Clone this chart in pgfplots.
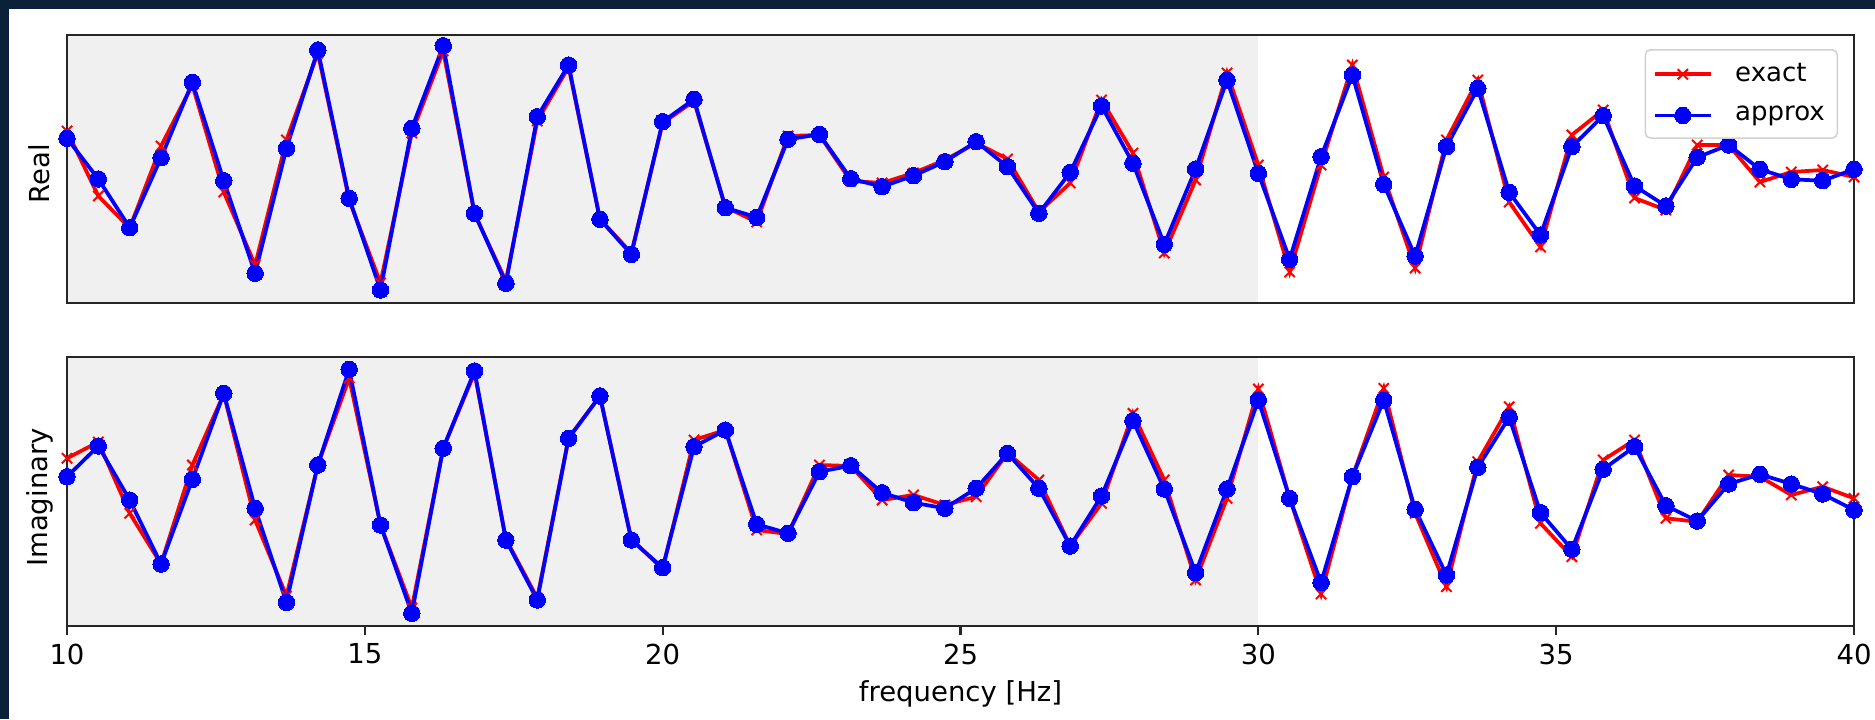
\documentclass[border=0pt]{standalone}
\usepackage{fontspec}
\setmainfont{DejaVu Sans}
\usepackage{pgfplots}
\usepackage{pgfplotstable}
\pgfplotsset{compat=1.18}

\definecolor{pagebar}{RGB}{13,32,58}
\definecolor{spanfill}{RGB}{240,240,240}
\definecolor{exactc}{RGB}{255,0,0}
\definecolor{approxc}{RGB}{0,0,255}

% frequency, real part (exact / approx), imaginary part (exact / approx)
\pgfplotstableread{
f      reex   reap   imex   imap
10.000 172.0  164.7  167.7  149.3
10.526 107.0  124.0  184.0  180.0
11.053  75.0   75.3  112.7  126.0
11.579 157.0  145.3   62.0   62.0
12.105 218.0  220.7  161.0  146.7
12.632 111.0  122.3  232.0  232.7
13.158  38.0   29.7  106.0  117.7
13.684 163.0  154.7   30.0   23.7
14.211 250.0  253.0  161.0  161.0
14.737 103.0  104.7  248.0  256.7
15.263  20.0   13.0  101.0  101.0
15.789 170.0  174.7   18.0   12.7
16.316 252.0  257.3  178.0  177.7
16.842  89.0   89.7  253.0  255.0
17.368  22.0   19.7   87.0   86.0
17.895 182.0  186.3   28.0   26.0
18.421 236.0  238.0  188.0  187.7
18.947  84.0   83.7  230.0  230.0
19.474  50.0   48.7   87.0   86.0
20.000 180.0  181.3   57.0   58.3
20.526 202.0  203.7  186.0  179.3
21.053  96.0   95.3  196.0  196.0
21.579  81.0   85.7   96.0  101.7
22.105 167.0  163.7   92.0   92.7
22.632 168.0  168.7  161.0  154.3
23.158 122.0  124.3  160.0  160.3
23.684 120.0  116.3  126.0  133.3
24.211 130.0  127.3  131.0  123.3
24.737 143.0  141.3  121.0  117.7
25.263 160.0  161.3  129.3  137.7
25.789 144.0  136.3  173.0  172.7
26.316  91.0   89.7  146.0  137.7
26.842 120.0  130.7   80.0   80.0
27.368 203.0  197.0  122.7  130.0
27.895 150.0  139.7  212.7  205.3
28.421  50.0   58.7  146.0  137.0
28.947 123.0  134.0   46.0   53.3
29.474 230.0  223.0  127.7  137.0
30.000 138.0  129.7  237.0  226.0
30.526  31.0   43.7  127.7  127.7
31.053 138.0  146.3   32.0   43.5
31.579 238.0  228.0  149.3  149.3
32.105 126.0  118.7  237.7  226.0
32.632  35.0   47.0  112.7  116.7
33.158 163.0  156.3   39.3   51.0
33.684 223.0  214.7  164.3  158.7
34.211 101.0  110.7  219.3  208.7
34.737  56.0   68.0  102.7  113.3
35.263 168.0  156.3   69.3   76.7
35.789 193.0  187.3  166.0  156.7
36.316 105.0  117.0  186.0  179.3
36.842  93.0   97.0  107.7  120.3
37.368 158.0  145.7  104.3  105.0
37.895 158.0  158.0  151.0  142.0
38.421 121.0  133.7  149.3  151.7
38.947 131.0  123.7  131.0  142.0
39.474 133.0  122.3  139.3  132.0
40.000 126.0  133.7  127.7  116.0
}\spectrum

\newcommand\labelfont{\fontsize{11}{13}\selectfont}
\newcommand\legendfont{\fontsize{10.4}{12.5}\selectfont}

\pgfplotsset{
  panel/.style={
    scale only axis, width=714.8pt,
    xmin=10, xmax=40, ymin=0,
    axis on top,
    axis line style={black!85, line width=0.9pt},
    ytick=\empty,
    tick align=outside, major tick length=3.6pt,
    every tick/.style={black!85, line width=0.9pt},
    /pgf/number format/assume math mode=true,
    tick label style={font=\labelfont},
  },
  seglegend/.style={
    legend image code/.code={%
      \draw[mark repeat=2, mark phase=2] plot coordinates {(0pt,0pt) (11.2pt,0pt) (22.4pt,0pt)};}
  },
  exactline/.style={exactc, line width=1.5pt, mark=x, mark size=2.9pt,
    mark options={line width=0.8pt}, seglegend},
  approxline/.style={approxc, line width=1.5pt, mark=*, mark size=3.3pt,
    mark options={fill=approxc, draw=approxc, line width=0pt}, seglegend},
}

\begin{document}
\begin{tikzpicture}
  \useasboundingbox (0,0) rectangle (750pt,287.6pt);
  \fill[white] (0,0) rectangle (750pt,287.6pt);
  \fill[pagebar] (0,284pt) rectangle (750pt,287.6pt);
  \fill[pagebar] (0,0) rectangle (3.4pt,287.6pt);

  % real part
  \begin{axis}[panel, name=top,
      at={(26.8pt,166.4pt)}, anchor=south west,
      height=107.2pt, ymax=268,
      xtick=\empty,
      legend style={at={(rel axis cs:1,1)}, anchor=north east,
        xshift=-6.4pt, yshift=-5.6pt,
        draw=black!18, line width=0.6pt, rounded corners=2pt,
        fill=white, font=\legendfont,
        inner xsep=3pt, inner ysep=3.4pt, row sep=4.4pt,
        nodes={inner sep=2pt},
        /tikz/every odd column/.append style={column sep=7pt}},
      legend cell align=left]
    \fill[spanfill] (axis cs:10,0) rectangle (axis cs:30,268);
    \addplot[exactline] table[x=f, y=reex] {\spectrum};
    \addplot[approxline] table[x=f, y=reap] {\spectrum};
    \legend{exact, approx}
  \end{axis}

  % imaginary part
  \begin{axis}[panel, name=bottom,
      at={(26.8pt,37.2pt)}, anchor=south west,
      height=107.6pt, ymax=269,
      xtick={10,15,20,25,30,35,40}, xtick pos=left]
    \fill[spanfill] (axis cs:10,0) rectangle (axis cs:30,269);
    \addplot[exactline] table[x=f, y=imex] {\spectrum};
    \addplot[approxline] table[x=f, y=imap] {\spectrum};
  \end{axis}

  \node[rotate=90, font=\labelfont] at ([xshift=-11pt, yshift=-1.8pt]top.west) {Real};
  \node[rotate=90, font=\labelfont] at ([xshift=-11pt, yshift=-2.4pt]bottom.west) {Imaginary};
  \node[font=\labelfont] at ([yshift=-27.2pt]bottom.south) {frequency [Hz]};
\end{tikzpicture}
\end{document}
